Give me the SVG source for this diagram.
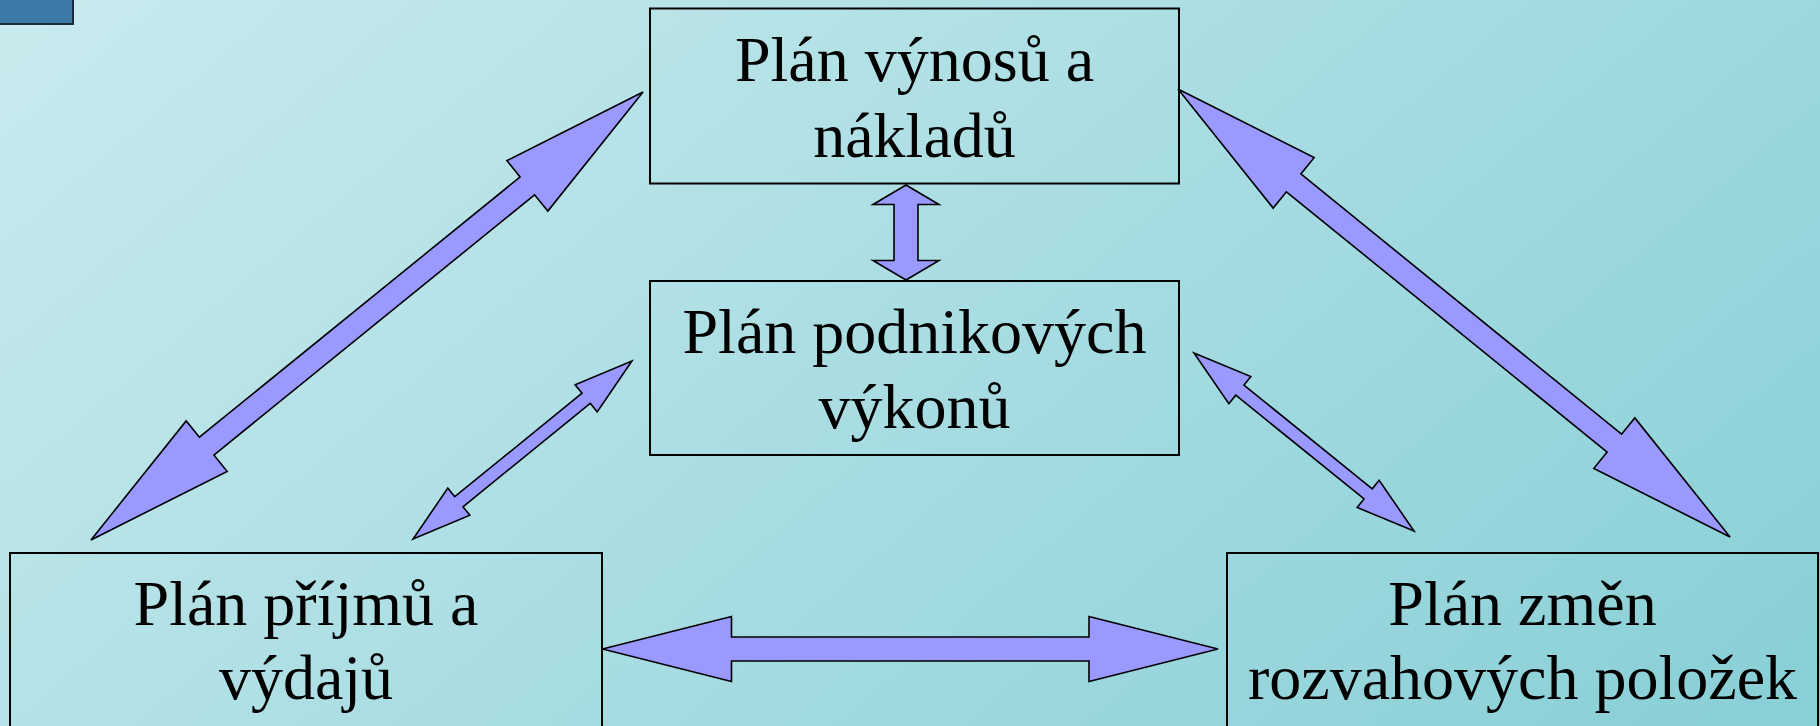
<svg xmlns="http://www.w3.org/2000/svg" width="1820" height="726" viewBox="0 0 1820 726">
  <defs>
    <linearGradient id="bg" gradientUnits="userSpaceOnUse" x1="0" y1="0" x2="1119" y2="1320">
      <stop offset="0" stop-color="#c9ebee"/>
      <stop offset="1" stop-color="#88cfd6"/>
    </linearGradient>
    <style>
      .box { fill: none; stroke: #000; stroke-width: 2; }
      .arrow { fill: #9999ff; stroke: #000; stroke-width: 1.6; stroke-linejoin: miter; }
      .lbl { font-family: "Liberation Serif", "Times New Roman", serif; font-size: 64px; fill: #000; text-anchor: middle; }
    </style>
  </defs>
  <rect x="0" y="0" width="1820" height="726" fill="url(#bg)"/>
  <rect x="-2" y="-2" width="75" height="26" fill="#3c79a6" stroke="#1a2a3a" stroke-width="2"/>

  <g id="connectors">
    <polygon class="arrow" transform="translate(367,316) rotate(-39.06)" points="-355.5,0 -206.5,-32.5 -206.5,-11.5 206.5,-11.5 206.5,-32.5 355.5,0 206.5,32.5 206.5,11.5 -206.5,11.5 -206.5,32.5"/>
    <polygon class="arrow" transform="translate(1454,313) rotate(39.06)" points="-355.5,0 -206.5,-32.5 -206.5,-11.5 206.5,-11.5 206.5,-32.5 355.5,0 206.5,32.5 206.5,11.5 -206.5,11.5 -206.5,32.5"/>
    <polygon class="arrow" transform="translate(1304,442) rotate(38.97)" points="-141.5,0 -82.5,-17.5 -82.5,-6.5 82.5,-6.5 82.5,-17.5 141.5,0 82.5,17.5 82.5,6.5 -82.5,6.5 -82.5,17.5"/>
    <polygon class="arrow" transform="translate(522.5,450) rotate(-39.1)" points="-141,0 -82,-17.5 -82,-6.5 82,-6.5 82,-17.5 141,0 82,17.5 82,6.5 -82,6.5 -82,17.5"/>
    <polygon class="arrow" points="906,185 939,204.5 918,204.5 918,260.5 939,260.5 906,280 873,260.5 894,260.5 894,204.5 873,204.5"/>
    <polygon class="arrow" points="602.5,649 731.5,616.5 731.5,637 1089,637 1089,616.5 1218,649 1089,681.5 1089,661 731.5,661 731.5,681.5"/>
  </g>

  <g id="node-vynosy">
    <rect class="box" x="650" y="8.5" width="529" height="175"/>
    <text class="lbl" x="914.5" y="81">Plán výnosů a</text>
    <text class="lbl" x="914.5" y="157">nákladů</text>
  </g>
  <g id="node-vykony">
    <rect class="box" x="650" y="281" width="529" height="174"/>
    <text class="lbl" x="914.5" y="353">Plán podnikových</text>
    <text class="lbl" x="914.5" y="428">výkonů</text>
  </g>
  <g id="node-prijmy">
    <rect class="box" x="10" y="553" width="592" height="200"/>
    <text class="lbl" x="306" y="625">Plán příjmů a</text>
    <text class="lbl" x="306" y="699">výdajů</text>
  </g>
  <g id="node-rozvaha">
    <rect class="box" x="1227" y="553" width="591" height="200"/>
    <text class="lbl" x="1522.5" y="625">Plán změn</text>
    <text class="lbl" x="1522.5" y="699">rozvahových položek</text>
  </g>
</svg>
